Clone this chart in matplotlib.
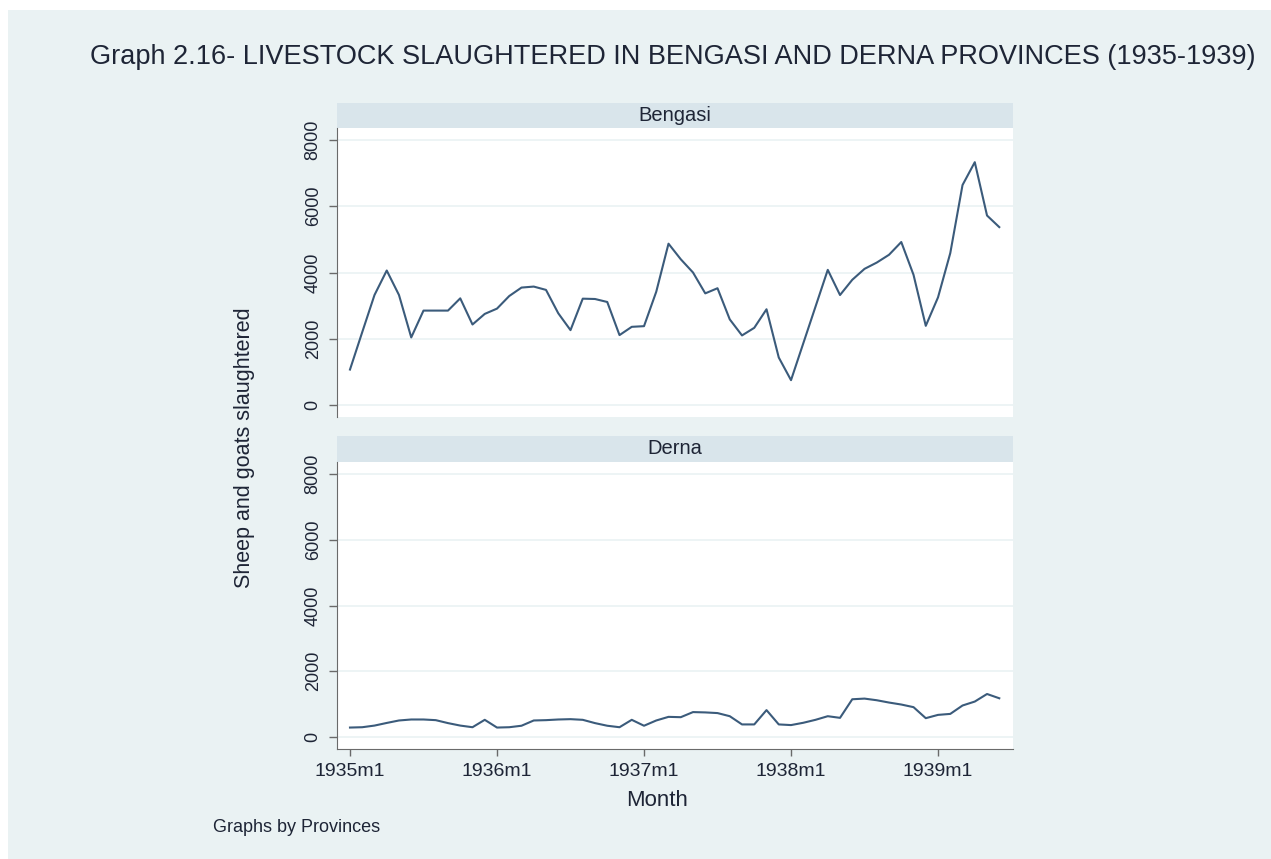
import matplotlib.pyplot as plt
from matplotlib.patches import Rectangle

# Monthly slaughter counts, 1935m1 - 1939m6
months = list(range(54))
bengasi = [1070, 2200, 3320, 4060, 3320, 2040, 2850, 2850, 2850, 3220,
           2430, 2750, 2910, 3290, 3545, 3575, 3475, 2770, 2260, 3210,
           3200, 3110, 2110, 2360, 2380, 3420, 4870, 4400, 4000, 3370,
           3525, 2585, 2100, 2330, 2890, 1434, 750, 1860, 2970, 4080,
           3320, 3780, 4110, 4300, 4535, 4920, 3930, 2390, 3250, 4585,
           6640, 7330, 5720, 5370]
derna = [290, 300, 350, 430, 505, 535, 535, 515, 425, 350,
         300, 525, 290, 300, 345, 505, 515, 535, 545, 525,
         425, 345, 300, 525, 345, 505, 615, 605, 760, 750,
         730, 635, 385, 385, 820, 385, 365, 435, 525, 635,
         585, 1150, 1170, 1120, 1050, 990, 910, 575, 675, 705,
         960, 1080, 1310, 1180]
provinces = ["Bengasi", "Derna"]
x_ticks = [0, 12, 24, 36, 48]
x_labels = ["1935m1", "1936m1", "1937m1", "1938m1", "1939m1"]
y_ticks = [0, 2000, 4000, 6000, 8000]

W, H = 1271, 859
BG = "#EAF2F3"
STRIP = "#D9E5EB"
LINE = "#3b5b7b"
TXT = "#1e2536"
AXC = "#6a6a6a"

plt.rcParams["font.family"] = ["Liberation Sans", "DejaVu Sans"]

fig = plt.figure(figsize=(W / 100, H / 100), dpi=100, facecolor="white")
fig.patches.append(Rectangle((8 / W, 0), 1, 1 - 10 / H, transform=fig.transFigure,
                             facecolor=BG, edgecolor="none", zorder=-10))


def px_axes(x0, y0, x1, y1, **kw):
    return fig.add_axes([x0 / W, 1 - y1 / H, (x1 - x0) / W, (y1 - y0) / H], **kw)


panels = [(bengasi, 103, 128, 417), (derna, 436, 462, 749)]
for i, (vals, strip_top, top, bottom) in enumerate(panels):
    # header strip with the province name
    sax = px_axes(337, strip_top, 1013, top)
    sax.set_facecolor(STRIP)
    sax.set_xticks([])
    sax.set_yticks([])
    for s in sax.spines.values():
        s.set_visible(False)
    sax.text(0.5, 0.5, provinces[i], ha="center", va="center",
             fontsize=14.5, color=TXT, transform=sax.transAxes)

    ax = px_axes(337, top, 1013, bottom)
    ax.set_facecolor("white")
    ax.plot(months, vals, color=LINE, lw=1.5)
    ax.set_xlim(-1.06, 54.12)
    ax.set_ylim(-362, 8362)
    ax.set_yticks(y_ticks)
    ax.set_yticklabels([str(v) for v in y_ticks], rotation=90, va="center")
    ax.grid(axis="y", color=BG, lw=1.2)
    ax.set_axisbelow(True)
    for s in ["top", "right", "bottom"]:
        ax.spines[s].set_visible(False)
    ax.spines["left"].set_color(AXC)
    ax.tick_params(axis="y", length=6, width=1, color=AXC, pad=5,
                   labelsize=13, labelcolor=TXT)
    ax.set_xticks(x_ticks)
    if i == 1:
        ax.spines["bottom"].set_visible(True)
        ax.spines["bottom"].set_color(AXC)
        ax.set_xticklabels(x_labels)
        ax.tick_params(axis="x", length=5, width=1, color=AXC, pad=5,
                       labelsize=14, labelcolor=TXT)
    else:
        ax.tick_params(axis="x", length=0, labelbottom=False)

fig.text(673 / W, 1 - 57 / H,
         "Graph 2.16- LIVESTOCK SLAUGHTERED IN BENGASI AND DERNA PROVINCES (1935-1939)",
         ha="center", va="center", fontsize=19.5, color=TXT)
fig.text(245 / W, 1 - 448 / H, "Sheep and goats slaughtered", rotation=90,
         ha="center", va="center", fontsize=15.5, color=TXT)
fig.text(657 / W, 1 - 800 / H, "Month", ha="center", va="center",
         fontsize=16, color=TXT)
fig.text(213 / W, 1 - 828 / H, "Graphs by Provinces", ha="left", va="center",
         fontsize=13, color=TXT)

fig.savefig("out.png", dpi=100, facecolor=fig.get_facecolor())
